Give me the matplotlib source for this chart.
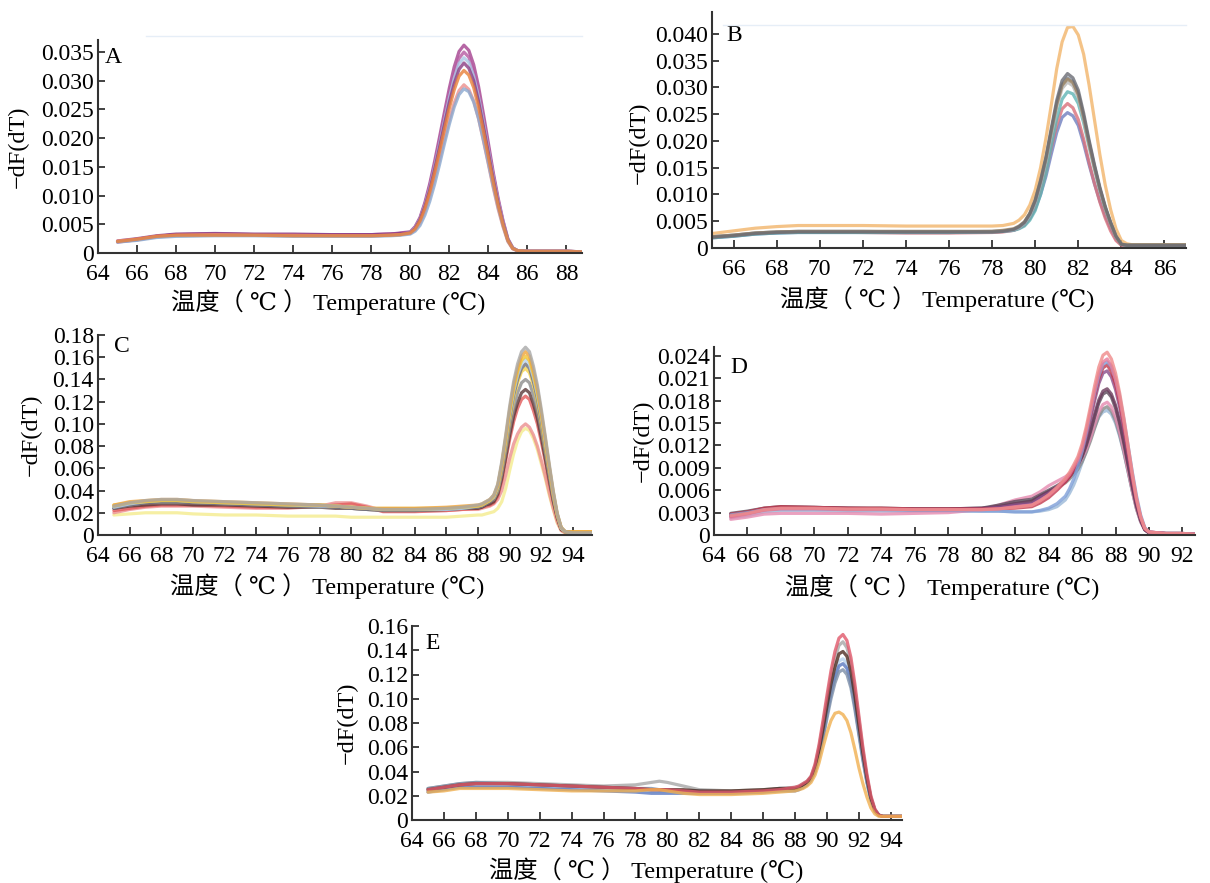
import matplotlib
matplotlib.use('Agg')
import matplotlib.pyplot as plt
from matplotlib.lines import Line2D

plt.rcParams['font.family'] = ['Liberation Serif', 'DejaVu Serif', 'Noto Sans CJK SC']
plt.rcParams['axes.unicode_minus'] = False

# ---------------- Panel A: melt curves, peak near 82.7 ----------------
temp_a = [65, 66, 67, 68, 70, 72, 74, 76, 78, 79, 79.5,
          80, 80.25, 80.5, 80.75, 81, 81.25, 81.5, 81.75, 82, 82.25, 82.5, 82.75,
          83, 83.25, 83.5, 83.75, 84, 84.25, 84.5, 84.75, 85, 85.25, 85.5,
          86, 87, 88, 88.8]
curves_a = [
    [.0019, .0023, .0029, .0032, .0033, .0032, .0032, .0031, .0032, .0033, .0035,
     .0037, .0046, .0062, .0088, .0121, .0160, .0202, .0245, .0287, .0324, .0351, .0362,
     .0353, .0328, .0290, .0242, .0192, .0141, .0096, .0057, .0025, .0009, .0004,
     .0003, .0003, .0003, .0002],
    [.0020, .0024, .0029, .0032, .0033, .0032, .0032, .0032, .0032, .0033, .0034,
     .0036, .0045, .0060, .0085, .0117, .0154, .0195, .0237, .0277, .0312, .0339, .0350,
     .0341, .0317, .0279, .0233, .0185, .0136, .0092, .0055, .0024, .0009, .0004,
     .0003, .0003, .0003, .0002],
    [.0020, .0023, .0028, .0030, .0031, .0031, .0030, .0030, .0030, .0031, .0032,
     .0036, .0044, .0059, .0083, .0113, .0150, .0189, .0230, .0270, .0304, .0330, .0340,
     .0332, .0308, .0272, .0227, .0180, .0133, .0090, .0054, .0024, .0009, .0004,
     .0003, .0003, .0003, .0002],
    [.0021, .0025, .0030, .0033, .0034, .0033, .0033, .0032, .0032, .0033, .0034,
     .0035, .0043, .0058, .0081, .0110, .0146, .0184, .0224, .0262, .0295, .0320, .0331,
     .0322, .0300, .0264, .0220, .0175, .0129, .0087, .0052, .0023, .0008, .0004,
     .0003, .0003, .0003, .0002],
    [.0021, .0024, .0029, .0031, .0032, .0031, .0031, .0030, .0030, .0031, .0032,
     .0034, .0040, .0052, .0072, .0098, .0129, .0163, .0198, .0232, .0261, .0283, .0293,
     .0285, .0265, .0234, .0195, .0155, .0114, .0077, .0046, .0020, .0007, .0004,
     .0003, .0003, .0003, .0002],
    [.0019, .0022, .0027, .0029, .0030, .0030, .0029, .0029, .0029, .0030, .0031,
     .0033, .0038, .0048, .0066, .0090, .0120, .0154, .0190, .0224, .0254, .0276, .0286,
     .0281, .0263, .0234, .0197, .0157, .0117, .0080, .0048, .0021, .0008, .0004,
     .0003, .0003, .0003, .0002],
    [.0020, .0024, .0029, .0031, .0031, .0031, .0030, .0030, .0030, .0031, .0032,
     .0035, .0042, .0056, .0078, .0106, .0140, .0177, .0215, .0252, .0284, .0308, .0318,
     .0310, .0288, .0254, .0212, .0168, .0124, .0084, .0050, .0022, .0008, .0004,
     .0003, .0003, .0003, .0002],
]
colors_a = ['#a4418f', '#b65aa2', '#a9c6e4', '#8a3c82', '#eb8f8c', '#8aa8cf', '#e8803a']

# ---------------- Panel B: melt curves, peak near 81.5 ----------------
temp_b = [65, 66, 67, 68, 69, 70, 72, 74, 76, 78, 78.5,
          79, 79.25, 79.5, 79.75, 80, 80.25, 80.5, 80.75, 81, 81.25, 81.5, 81.75,
          82, 82.25, 82.5, 82.75, 83, 83.25, 83.5, 83.75, 84, 84.25, 84.5,
          85, 86, 87]
curves_b = [
    [.0027, .0032, .0037, .0040, .0042, .0042, .0042, .0041, .0041, .0041, .0042,
     .0046, .0052, .0062, .0080, .0108, .0150, .0205, .0268, .0335, .0385, .0412, .0414,
     .0398, .0362, .0305, .0240, .0175, .0118, .0072, .0036, .0014, .0008, .0006,
     .0006, .0006, .0006],
    [.0019, .0022, .0026, .0028, .0029, .0029, .0029, .0029, .0029, .0030, .0031,
     .0033, .0037, .0043, .0055, .0073, .0100, .0134, .0176, .0216, .0244, .0253, .0247,
     .0229, .0195, .0156, .0120, .0088, .0060, .0037, .0017, .0006, .0004, .0004,
     .0004, .0004, .0004],
    [.0020, .0023, .0027, .0029, .0030, .0030, .0029, .0028, .0028, .0029, .0030,
     .0033, .0037, .0043, .0056, .0076, .0106, .0143, .0188, .0230, .0260, .0270, .0262,
     .0240, .0203, .0160, .0121, .0086, .0056, .0032, .0014, .0005, .0004, .0004,
     .0004, .0004, .0004],
    [.0019, .0022, .0026, .0028, .0029, .0029, .0029, .0029, .0029, .0030, .0031,
     .0033, .0036, .0041, .0052, .0070, .0100, .0140, .0192, .0242, .0278, .0292, .0288,
     .0270, .0234, .0190, .0148, .0108, .0074, .0046, .0021, .0007, .0005, .0005,
     .0005, .0005, .0005],
    [.0021, .0024, .0028, .0030, .0031, .0031, .0031, .0031, .0031, .0031, .0032,
     .0034, .0038, .0046, .0061, .0085, .0120, .0162, .0213, .0263, .0298, .0310, .0303,
     .0281, .0240, .0193, .0149, .0109, .0074, .0046, .0021, .0007, .0005, .0005,
     .0005, .0005, .0005],
    [.0021, .0024, .0028, .0030, .0031, .0031, .0031, .0030, .0030, .0031, .0032,
     .0034, .0039, .0047, .0063, .0087, .0123, .0166, .0219, .0270, .0306, .0318, .0311,
     .0289, .0246, .0198, .0153, .0111, .0076, .0047, .0022, .0007, .0005, .0005,
     .0005, .0005, .0005],
    [.0021, .0024, .0028, .0030, .0031, .0031, .0031, .0031, .0031, .0031, .0033,
     .0036, .0041, .0049, .0065, .0090, .0126, .0168, .0219, .0269, .0304, .0316, .0309,
     .0287, .0245, .0196, .0152, .0111, .0076, .0047, .0022, .0007, .0006, .0006,
     .0006, .0006, .0006],
    [.0020, .0023, .0027, .0029, .0030, .0030, .0030, .0030, .0030, .0030, .0031,
     .0035, .0040, .0048, .0064, .0089, .0126, .0170, .0224, .0276, .0313, .0326, .0318,
     .0295, .0252, .0202, .0156, .0114, .0078, .0048, .0022, .0007, .0005, .0005,
     .0005, .0005, .0005],
]
colors_b = ['#f2b56a', '#6f7fbf', '#d9707a', '#5fb4b4', '#b8b8b8', '#7f8fa8', '#a08662', '#6a6c74']

# ---------------- Panel C: melt curves, peak near 91.0 ----------------
temp_c = [65, 66, 67, 68, 69, 70, 72, 74, 76, 78, 79, 80, 81, 82, 84, 86, 87,
          88, 88.25, 88.5, 88.75, 89, 89.25, 89.5, 89.75, 90, 90.25, 90.5, 90.75,
          91, 91.25, 91.5, 91.75, 92, 92.25, 92.5, 92.75, 93, 93.25, 93.5,
          94, 95.2]
curves_c = [
    [.018, .019, .020, .020, .020, .019, .018, .018, .017, .017, .017, .016, .016, .016, .016, .016, .017,
     .018, .018, .019, .020, .021, .024, .030, .042, .058, .073, .085, .093,
     .096, .094, .087, .077, .064, .051, .036, .023, .011, .004, .002, .002, .002],
    [.020, .023, .025, .026, .026, .026, .025, .024, .024, .026, .029, .029, .026, .022, .022, .022, .023,
     .023, .024, .025, .026, .028, .032, .040, .054, .069, .082, .091, .097,
     .100, .097, .090, .080, .067, .053, .038, .024, .012, .004, .002, .002, .002],
    [.022, .024, .026, .027, .027, .027, .026, .025, .025, .026, .027, .028, .025, .021, .021, .022, .023,
     .024, .025, .026, .027, .029, .035, .049, .067, .086, .102, .114, .122,
     .125, .122, .112, .100, .084, .066, .047, .030, .015, .005, .003, .002, .002],
    [.024, .026, .027, .028, .028, .027, .027, .026, .025, .025, .024, .024, .023, .022, .022, .023, .024,
     .024, .025, .027, .028, .030, .037, .051, .070, .090, .107, .119, .128,
     .131, .128, .118, .105, .088, .069, .050, .031, .016, .005, .003, .002, .002],
    [.025, .027, .029, .029, .029, .029, .028, .027, .026, .025, .025, .024, .023, .022, .022, .023, .024,
     .025, .026, .028, .030, .032, .039, .055, .075, .096, .114, .128, .137,
     .140, .137, .126, .112, .094, .074, .053, .033, .017, .006, .003, .002, .002],
    [.027, .029, .030, .031, .031, .030, .029, .028, .027, .027, .026, .025, .024, .024, .024, .024, .025,
     .026, .027, .029, .031, .033, .041, .059, .080, .103, .123, .137, .147,
     .150, .146, .135, .120, .100, .079, .057, .036, .018, .006, .003, .002, .002],
    [.024, .027, .029, .030, .030, .029, .028, .027, .026, .026, .025, .024, .023, .023, .023, .023, .024,
     .025, .026, .028, .030, .033, .042, .060, .082, .106, .126, .140, .150,
     .154, .150, .138, .123, .103, .081, .058, .036, .018, .006, .003, .002, .002],
    [.025, .028, .030, .031, .031, .030, .029, .028, .027, .026, .026, .025, .024, .023, .023, .023, .024,
     .026, .027, .029, .031, .034, .043, .062, .084, .108, .129, .144, .154,
     .158, .154, .142, .126, .106, .083, .060, .037, .019, .006, .003, .002, .002],
    [.026, .029, .030, .031, .031, .030, .029, .028, .027, .027, .026, .025, .024, .023, .023, .024, .025,
     .026, .027, .029, .031, .035, .044, .063, .086, .111, .132, .147, .157,
     .161, .157, .145, .129, .108, .085, .061, .038, .019, .007, .003, .003, .003],
    [.027, .030, .031, .032, .032, .031, .030, .029, .028, .027, .026, .025, .024, .024, .024, .025, .026,
     .027, .028, .030, .032, .036, .045, .064, .088, .113, .135, .150, .161,
     .165, .161, .148, .132, .110, .087, .062, .039, .019, .007, .003, .003, .003],
    [.026, .029, .031, .032, .032, .031, .030, .029, .028, .027, .026, .025, .024, .023, .023, .024, .025,
     .027, .028, .030, .032, .036, .046, .066, .090, .116, .138, .154, .165,
     .169, .165, .152, .135, .113, .089, .064, .040, .020, .007, .003, .002, .002],
]
colors_c = ['#f4ec8e', '#ec8f8f', '#e25a5a', '#5a3838', '#8c8c8c', '#f5d24a', '#70707a', '#b9d4ee',
            '#f2c531', '#f0a43a', '#a8a8a8']

# ---------------- Panel D: melt curves, peak near 87.4 ----------------
temp_d = [65, 66, 67, 68, 70, 72, 74, 76, 78, 80, 81, 82,
          83, 83.5, 84, 84.5, 85, 85.25, 85.5, 85.75, 86, 86.25, 86.5, 86.75, 87,
          87.25, 87.5, 87.75, 88, 88.25, 88.5, 88.75, 89, 89.25, 89.5, 89.75, 90,
          91, 92, 92.75]
curves_d = [
    [.0023, .0026, .0031, .0033, .0033, .0032, .0032, .0032, .0032, .0032, .0032, .0031,
     .0031, .0032, .0034, .0038, .0047, .0056, .0067, .0081, .0097, .0113, .0129, .0145, .0158,
     .0165, .0167, .0162, .0150, .0132, .0110, .0085, .0059, .0036, .0018, .0007, .0003,
     .0002, .0002, .0001],
    [.0026, .0029, .0034, .0036, .0036, .0035, .0035, .0034, .0034, .0035, .0038, .0042,
     .0046, .0052, .0058, .0064, .0070, .0075, .0081, .0088, .0098, .0111, .0126, .0143, .0159,
     .0169, .0172, .0166, .0153, .0134, .0111, .0085, .0059, .0035, .0018, .0007, .0003,
     .0002, .0002, .0001],
    [.0021, .0024, .0028, .0029, .0029, .0029, .0028, .0029, .0030, .0034, .0040, .0047,
     .0052, .0058, .0066, .0072, .0078, .0082, .0087, .0094, .0103, .0115, .0130, .0148, .0165,
     .0175, .0178, .0172, .0158, .0138, .0114, .0087, .0060, .0036, .0018, .0007, .0003,
     .0002, .0002, .0001],
    [.0029, .0032, .0036, .0038, .0037, .0036, .0036, .0035, .0035, .0036, .0040, .0045,
     .0048, .0054, .0060, .0066, .0073, .0079, .0086, .0094, .0105, .0120, .0138, .0158, .0177,
     .0189, .0192, .0185, .0170, .0149, .0123, .0094, .0065, .0039, .0020, .0007, .0003,
     .0002, .0002, .0001],
    [.0027, .0030, .0035, .0037, .0037, .0036, .0035, .0035, .0035, .0036, .0038, .0042,
     .0045, .0052, .0058, .0064, .0072, .0078, .0085, .0094, .0106, .0122, .0141, .0162, .0181,
     .0193, .0196, .0189, .0174, .0152, .0126, .0096, .0066, .0040, .0020, .0007, .0003,
     .0002, .0002, .0001],
    [.0025, .0029, .0034, .0036, .0036, .0035, .0035, .0034, .0034, .0035, .0037, .0040,
     .0042, .0050, .0056, .0064, .0073, .0080, .0088, .0098, .0112, .0132, .0155, .0180, .0203,
     .0217, .0220, .0212, .0195, .0171, .0141, .0108, .0075, .0045, .0023, .0008, .0004,
     .0002, .0002, .0001],
    [.0028, .0031, .0036, .0038, .0037, .0036, .0036, .0035, .0035, .0035, .0035, .0036,
     .0038, .0043, .0050, .0060, .0071, .0078, .0087, .0098, .0113, .0135, .0160, .0186, .0209,
     .0224, .0228, .0219, .0202, .0177, .0146, .0112, .0077, .0047, .0023, .0008, .0004,
     .0002, .0002, .0001],
    [.0027, .0030, .0034, .0035, .0035, .0034, .0034, .0033, .0033, .0032, .0032, .0031,
     .0031, .0033, .0036, .0042, .0052, .0062, .0075, .0092, .0112, .0136, .0163, .0190, .0213,
     .0229, .0232, .0226, .0210, .0186, .0155, .0120, .0085, .0053, .0027, .0010, .0004,
     .0002, .0002, .0001],
    [.0024, .0028, .0033, .0035, .0035, .0034, .0034, .0034, .0034, .0034, .0035, .0038,
     .0040, .0046, .0053, .0063, .0074, .0081, .0091, .0101, .0117, .0140, .0166, .0193, .0217,
     .0232, .0236, .0227, .0209, .0183, .0151, .0116, .0080, .0048, .0024, .0009, .0004,
     .0002, .0002, .0001],
    [.0026, .0029, .0034, .0036, .0036, .0035, .0035, .0034, .0034, .0034, .0035, .0037,
     .0040, .0046, .0054, .0064, .0076, .0084, .0094, .0105, .0122, .0145, .0172, .0200, .0225,
     .0241, .0245, .0236, .0217, .0190, .0157, .0120, .0083, .0050, .0025, .0009, .0004,
     .0002, .0002, .0001],
]
colors_d = ['#9ab8d8', '#8a8a8a', '#e58ab0', '#5c4a5a', '#6b3b5b', '#8a4c8a', '#c23a4e', '#7f9fd8',
            '#e87a9a', '#ef8a8a']

# ---------------- Panel E: melt curves, peak near 90.9 ----------------
temp_e = [65, 66, 67, 68, 70, 72, 74, 76, 78, 79, 79.5, 80, 81, 82, 84, 86, 87,
          88, 88.25, 88.5, 88.75, 89, 89.25, 89.5, 89.75, 90, 90.25, 90.5, 90.75,
          91, 91.25, 91.5, 91.75, 92, 92.25, 92.5, 92.75, 93, 93.25, 93.5,
          94, 94.7]
curves_e = [
    [.026, .028, .030, .031, .031, .030, .029, .028, .029, .031, .032, .031, .028, .025, .024, .025, .026,
     .027, .028, .030, .032, .036, .045, .060, .079, .099, .118, .133, .144,
     .147, .142, .129, .108, .083, .058, .036, .019, .009, .004, .003, .003, .003],
    [.024, .026, .028, .028, .028, .027, .027, .026, .025, .024, .024, .024, .023, .022, .022, .023, .024,
     .025, .026, .028, .030, .034, .041, .055, .072, .090, .107, .121, .131,
     .133, .129, .117, .097, .075, .052, .033, .017, .008, .004, .003, .003, .003],
    [.023, .025, .027, .027, .027, .026, .025, .024, .023, .022, .022, .022, .022, .022, .022, .023, .024,
     .024, .025, .027, .029, .033, .040, .053, .069, .087, .104, .117, .127,
     .129, .125, .113, .094, .072, .051, .032, .017, .008, .004, .003, .003, .003],
    [.026, .028, .030, .031, .030, .029, .028, .027, .026, .026, .025, .025, .024, .024, .023, .024, .026,
     .026, .027, .029, .031, .034, .040, .052, .067, .084, .100, .113, .122,
     .124, .120, .109, .091, .070, .049, .031, .016, .007, .004, .003, .003, .003],
    [.025, .027, .029, .030, .030, .029, .028, .027, .026, .025, .025, .025, .025, .024, .024, .025, .026,
     .026, .027, .029, .031, .035, .043, .057, .075, .094, .112, .126, .137,
     .139, .135, .122, .102, .078, .055, .035, .018, .008, .004, .003, .003, .003],
    [.025, .027, .029, .030, .030, .029, .028, .027, .026, .025, .025, .025, .024, .023, .023, .024, .025,
     .027, .028, .030, .032, .036, .046, .062, .082, .103, .123, .139, .150,
     .153, .148, .134, .112, .086, .060, .038, .020, .009, .004, .003, .003, .003],
    [.023, .024, .026, .026, .026, .025, .024, .024, .024, .025, .025, .024, .022, .021, .021, .022, .023,
     .024, .025, .026, .028, .031, .037, .047, .060, .072, .082, .088, .089,
     .087, .082, .072, .058, .043, .030, .019, .010, .005, .003, .003, .003, .003],
]
colors_e = ['#a6a6a6', '#b4d0ec', '#5a78c0', '#7c8ea8', '#4e2c20', '#e0586a', '#f0b050']

xlabel_text = '温度（ ℃ ） Temperature (℃)'
ylabel_text = '−dF(dT)'

W, H = 1210, 883
fig = plt.figure(figsize=(W / 100, H / 100), dpi=100)


def panel(box, temps, curves, colors, letter, xlim, ylim, xticks, yticks, yfmt,
          ylab_off, ylab_y, xlab_dx, xlab_top, letter_dx, letter_y):
    l, r, t, b = box
    w, h = r - l, b - t
    ax = fig.add_axes([l / W, 1 - b / H, w / W, h / H])
    for vals, c in zip(curves, colors):
        ax.plot(temps, vals, color=c, lw=2.3, alpha=0.8, solid_capstyle='round',
                solid_joinstyle='round')
    ax.set_xlim(*xlim)
    ax.set_ylim(*ylim)
    ax.set_xticks(xticks)
    ax.set_yticks(yticks)
    ax.set_yticklabels(['0' if v == 0 else format(v, yfmt) for v in yticks])
    for s in ['top', 'right']:
        ax.spines[s].set_visible(False)
    for s in ['left', 'bottom']:
        ax.spines[s].set_color('#333333')
        ax.spines[s].set_linewidth(1.5)
    ax.tick_params(axis='x', direction='in', length=6, width=1.3, labelsize=17, pad=8,
                   color='#333333', labelcolor='black')
    ax.tick_params(axis='y', direction='in', length=5, width=1.3, labelsize=17, pad=3,
                   color='#333333', labelcolor='black')
    ax.set_xlabel(xlabel_text, fontsize=17.5)
    ax.xaxis.set_label_coords(0.5 - xlab_dx / w, -xlab_top / h)
    ax.set_ylabel(ylabel_text, fontsize=17.5)
    ax.yaxis.set_label_coords(-ylab_off / w, ylab_y)
    ax.annotate(letter, xy=(0, letter_y), xycoords='axes fraction',
                xytext=(letter_dx * 0.72, 0), textcoords='offset points',
                fontsize=17, va='center', ha='left')
    return ax


ax_a = panel((98, 582, 40, 253), temp_a, curves_a, colors_a, 'A', (64, 88.8), (0, 0.0371),
             list(range(64, 89, 2)), [i * 0.005 for i in range(8)], '.3f',
             69, 0.5, 12, 36, 7, 0.92)
ax_b = panel((712, 1186, 12, 248), temp_b, curves_b, colors_b, 'B', (65, 87), (0, 0.0441),
             list(range(66, 87, 2)), [i * 0.005 for i in range(9)], '.3f',
             62, 0.445, 12, 38, 14, 0.90)
ax_c = panel((98, 592, 335, 535), temp_c, curves_c, colors_c, 'C', (64, 95.2), (0, 0.18),
             list(range(64, 95, 2)), [i * 0.02 for i in range(10)], '.2f',
             56, 0.5, 18, 38, 16, 0.94)
ax_d = panel((714, 1195, 347, 535), temp_d, curves_d, colors_d, 'D', (64, 92.75), (0, 0.0252),
             list(range(64, 93, 2)), [i * 0.003 for i in range(9)], '.3f',
             60, 0.5, 12, 39, 16, 0.89)
ax_e = panel((412, 902, 626, 820), temp_e, curves_e, colors_e, 'E', (64, 94.7), (0, 0.16),
             list(range(64, 95, 2)), [i * 0.02 for i in range(9)], '.2f',
             54, 0.5, 11, 37, 13, 0.91)

# faint frame lines along the top of panels A and B
for x0, x1, y in [(146, 582, 36), (723, 1186, 25)]:
    fig.add_artist(Line2D([x0 / W, x1 / W], [1 - y / H, 1 - y / H], color='#e6eef7', lw=1.0))

fig.savefig('out.png', dpi=100)
